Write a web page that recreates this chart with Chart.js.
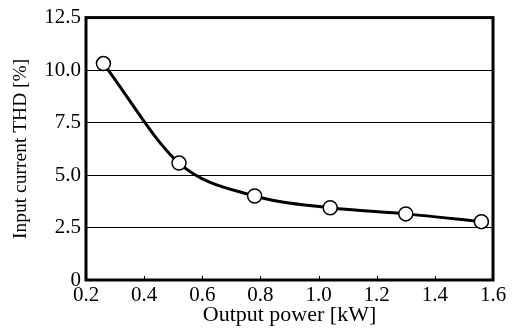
<!DOCTYPE html>
<html>
<head>
<meta charset="utf-8">
<script src="https://cdn.jsdelivr.net/npm/chart.js@4"></script>
<style>
  html, body { margin: 0; padding: 0; background: #fff; }
  #wrap { width: 513px; height: 328px; }
</style>
</head>
<body>
<div id="wrap"><canvas id="thdChart" width="513" height="328"></canvas></div>
<script>
// Data
const outputPower = [0.26, 0.52, 0.78, 1.04, 1.30, 1.56];   // kW
const thdValues   = [10.31, 5.57, 4.0, 3.44, 3.15, 2.78];   // %
const xTicks = [0.2, 0.4, 0.6, 0.8, 1.0, 1.2, 1.4, 1.6];
const yTicks = [0, 2.5, 5.0, 7.5, 10.0, 12.5];

const serif = "'Liberation Serif', 'DejaVu Serif', serif";

// Thick frame round the plot area + small inner ticks on the x axis
const framePlugin = {
  id: 'frame',
  afterDatasetsDraw(chart) {
    const { ctx, chartArea: a, scales } = chart;
    ctx.save();
    ctx.strokeStyle = '#000';
    ctx.lineWidth = 1;
    xTicks.forEach(v => {
      const px = Math.round(scales.x.getPixelForValue(v)) + 0.5;
      ctx.beginPath();
      ctx.moveTo(px, a.bottom);
      ctx.lineTo(px, a.bottom - 4);
      ctx.stroke();
    });
    ctx.lineWidth = 3;
    ctx.strokeRect(a.left, a.top, a.right - a.left, a.bottom - a.top);
    ctx.restore();
  }
};

const ctx = document.getElementById('thdChart').getContext('2d');
new Chart(ctx, {
  type: 'line',
  data: {
    datasets: [{
      data: outputPower.map((x, i) => ({ x, y: thdValues[i] })),
      borderColor: '#000',
      borderWidth: 3,
      cubicInterpolationMode: 'monotone',
      pointRadius: 7,
      pointBorderWidth: 1.5,
      pointBorderColor: '#000',
      pointBackgroundColor: '#fff',
      fill: false
    }]
  },
  options: {
    responsive: false,
    animation: false,
    layout: { padding: { top: 14, right: 20, left: 0, bottom: 0 } },
    plugins: { legend: { display: false }, tooltip: { enabled: false } },
    scales: {
      x: {
        type: 'linear',
        min: 0.2, max: 1.6,
        afterBuildTicks(scale) { scale.ticks = xTicks.map(v => ({ value: v })); },
        afterFit(scale) { scale.height = 48; },
        grid: { display: false },
        border: { display: false },
        ticks: {
          color: '#000',
          padding: -5,
          maxRotation: 0,
          font: { family: serif, size: 21 },
          callback: v => v.toFixed(1)
        },
        title: {
          display: true,
          text: 'Output power [kW]',
          color: '#000',
          padding: { top: -9, bottom: 0 },
          font: { family: serif, size: 22 }
        }
      },
      y: {
        min: 0, max: 12.5,
        afterBuildTicks(scale) { scale.ticks = yTicks.map(v => ({ value: v })); },
        afterFit(scale) { scale.width = 86; },
        grid: {
          color: ctx => (ctx.tick && ctx.tick.value > 0 && ctx.tick.value < 12.5) ? '#000' : 'rgba(0,0,0,0)',
          lineWidth: 1,
          drawTicks: false
        },
        border: { display: false },
        ticks: {
          color: '#000',
          padding: 5,
          font: { family: serif, size: 21 },
          callback: v => v === 0 ? '0' : v.toFixed(1)
        },
        title: {
          display: true,
          text: 'Input current THD [%]',
          color: '#000',
          padding: { top: 9, bottom: 0 },
          font: { family: serif, size: 19.5 }
        }
      }
    }
  },
  plugins: [framePlugin]
});
</script>
</body>
</html>
